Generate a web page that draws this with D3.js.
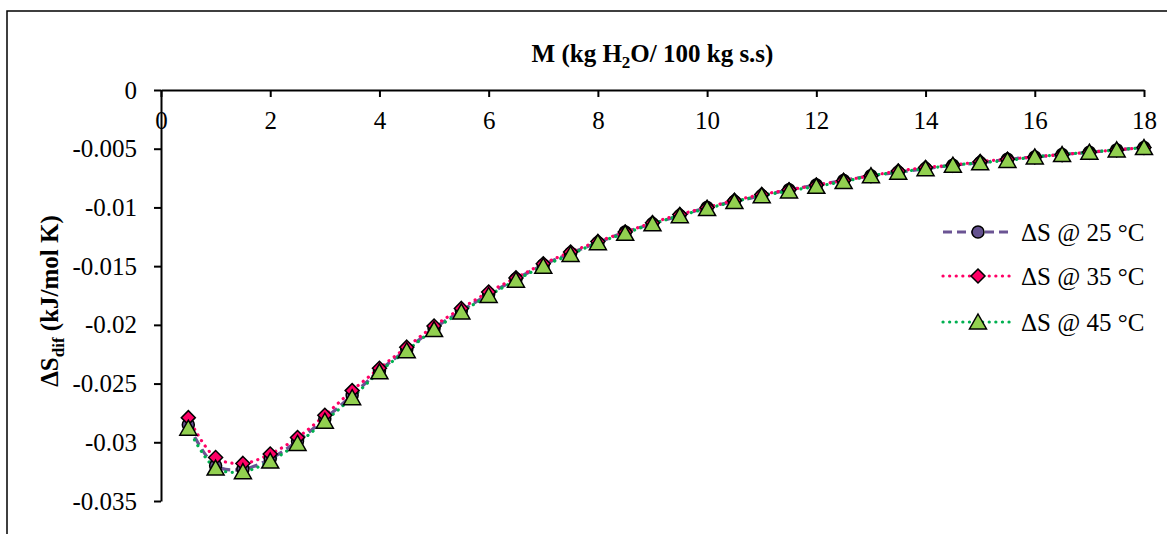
<!DOCTYPE html>
<html>
<head>
<meta charset="utf-8">
<script src="https://cdn.jsdelivr.net/npm/d3@7"></script>
<style>
  body { margin: 0; background: #fff; }
  svg { display: block; font-family: "Liberation Serif", "Times New Roman", serif; }
</style>
</head>
<body>
<div id="chart"></div>
<script>
// moisture content M (kg H2O / 100 kg s.s)
const moisture = [0.5, 1, 1.5, 2, 2.5, 3, 3.5, 4, 4.5, 5, 5.5, 6, 6.5, 7, 7.5, 8, 8.5, 9,
  9.5, 10, 10.5, 11, 11.5, 12, 12.5, 13, 13.5, 14, 14.5, 15, 15.5, 16, 16.5, 17, 17.5, 18];

// differential entropy (kJ/mol K)
const ds25 = [-0.0285, -0.0320, -0.0323, -0.0314, -0.0299, -0.0280, -0.0260, -0.0239, -0.0221,
  -0.0203, -0.0188, -0.0174, -0.0161, -0.0149, -0.0139, -0.0130, -0.0121, -0.0114, -0.0107,
  -0.0100, -0.0095, -0.0090, -0.0085, -0.0081, -0.0077, -0.0073, -0.0070, -0.0067, -0.0064,
  -0.0062, -0.0059, -0.0057, -0.0055, -0.0053, -0.0051, -0.0049];
const ds35 = [-0.0279, -0.0313, -0.0318, -0.0310, -0.0296, -0.0277, -0.0256, -0.0237, -0.0219,
  -0.0201, -0.0186, -0.0172, -0.0160, -0.0148, -0.0138, -0.0129, -0.0121, -0.0113, -0.0106,
  -0.0100, -0.0094, -0.0089, -0.0085, -0.0081, -0.0077, -0.0073, -0.0069, -0.0066, -0.0064,
  -0.0061, -0.0059, -0.0057, -0.0055, -0.0053, -0.0051, -0.0049];
const ds45 = [-0.0288, -0.0322, -0.0325, -0.0316, -0.0301, -0.0282, -0.0262, -0.0240, -0.0222,
  -0.0204, -0.0189, -0.0175, -0.0162, -0.0150, -0.0140, -0.0130, -0.0122, -0.0114, -0.0107,
  -0.0101, -0.0095, -0.0090, -0.0086, -0.0082, -0.0078, -0.0073, -0.0070, -0.0067, -0.0064,
  -0.0062, -0.0060, -0.0057, -0.0055, -0.0053, -0.0051, -0.0049];

const seriesNames = ["\u0394S @ 25 \u00B0C", "\u0394S @ 35 \u00B0C", "\u0394S @ 45 \u00B0C"];

// tick values and labels
const xTicks = [0, 2, 4, 6, 8, 10, 12, 14, 16, 18];
const yTicks = [0, -0.005, -0.01, -0.015, -0.02, -0.025, -0.03, -0.035];
const yTickLabels = ["0", "-0.005", "-0.01", "-0.015", "-0.02", "-0.025", "-0.03", "-0.035"];

// chart settings
const width = 1167;
const height = 534;
const plotLeft = 161, plotRight = 1144, plotTop = 90, plotBottom = 501;
const fontSize = 25;

const xScale = d3.scaleLinear().domain([0, 18]).range([plotLeft, plotRight]);
const yScale = d3.scaleLinear().domain([-0.035, 0]).range([plotBottom, plotTop]);

const svg = d3.select("#chart").append("svg")
  .attr("width", width)
  .attr("height", height);

// outer frame
svg.append("rect")
  .attr("x", 7).attr("y", 11)
  .attr("width", 1300).attr("height", 700)
  .attr("fill", "none").attr("stroke", "#000").attr("stroke-width", 1.5);

// series styles
const styles = [
  { data: ds25, line: "#6B5494", dash: "9 5", cap: "butt", fill: "#64518F", shape: "circle" },
  { data: ds35, line: "#FF0066", dash: "0.1 6.5", cap: "round", fill: "#FF0066", shape: "diamond" },
  { data: ds45, line: "#00B050", dash: "0.1 6.5", cap: "round", fill: "#92D050", shape: "triangle" }
];

const markerPath = {
  circle: "M6,0A6,6 0 1,1 -6,0A6,6 0 1,1 6,0Z",
  diamond: "M0,-7L7,0L0,7L-7,0Z",
  triangle: "M0,-8L8.5,7L-8.5,7Z"
};

const line = d3.line()
  .x((d) => xScale(d[0]))
  .y((d) => yScale(d[1]))
  .curve(d3.curveCatmullRom.alpha(0.5));

// lines first
styles.forEach((s) => {
  const pts = moisture.map((m, i) => [m, s.data[i]]);
  svg.append("path")
    .datum(pts)
    .attr("d", line)
    .attr("fill", "none")
    .attr("stroke", s.line)
    .attr("stroke-width", 3.2)
    .attr("stroke-dasharray", s.dash)
    .attr("stroke-linecap", s.cap);
});

// markers
styles.forEach((s) => {
  svg.append("g")
    .selectAll("path")
    .data(moisture.map((m, i) => [m, s.data[i]]))
    .enter()
    .append("path")
    .attr("d", markerPath[s.shape])
    .attr("transform", (d) => "translate(" + xScale(d[0]) + "," + yScale(d[1]) + ")")
    .attr("fill", s.fill)
    .attr("stroke", "#000")
    .attr("stroke-width", 1.5);
});

// x-axis (at y = 0, top of plot)
const xAxis = d3.axisBottom(xScale)
  .tickValues(xTicks)
  .tickSize(7)
  .tickSizeOuter(0)
  .tickPadding(14)
  .tickFormat((d) => d);

const gx = svg.append("g")
  .attr("transform", "translate(0," + plotTop + ")")
  .call(xAxis);

// y-axis
const yAxis = d3.axisLeft(yScale)
  .tickValues(yTicks)
  .tickSize(7)
  .tickSizeOuter(0)
  .tickPadding(17)
  .tickFormat((d, i) => yTickLabels[i]);

const gy = svg.append("g")
  .attr("transform", "translate(" + plotLeft + ",0)")
  .call(yAxis);

[gx, gy].forEach((g) => {
  g.selectAll("path, line").attr("stroke", "#000").attr("stroke-width", 2);
  g.selectAll("text")
    .attr("fill", "#000")
    .style("font-size", fontSize + "px")
    .style("font-family", "'Liberation Serif', 'Times New Roman', serif");
});

// x-axis title
const xt = svg.append("text")
  .attr("x", (plotLeft + plotRight) / 2)
  .attr("y", 62)
  .attr("text-anchor", "middle")
  .style("font-size", fontSize + "px")
  .style("font-weight", "bold");
xt.append("tspan").text("M (kg H");
xt.append("tspan").attr("dy", 6).style("font-size", "17px").text("2");
xt.append("tspan").attr("dy", -6).text("O/ 100 kg s.s)");

// y-axis title
const yt = svg.append("text")
  .attr("transform", "translate(58,301) rotate(-90)")
  .attr("text-anchor", "middle")
  .style("font-size", fontSize + "px")
  .style("font-weight", "bold");
yt.append("tspan").text("\u0394S");
yt.append("tspan").attr("dy", 6).style("font-size", "17px").text("dif");
yt.append("tspan").attr("dy", -6).text(" (kJ/mol K)");

// legend
const legendY = [232, 276, 322];
styles.forEach((s, i) => {
  const g = svg.append("g").attr("transform", "translate(0," + legendY[i] + ")");
  g.append("line")
    .attr("x1", 943).attr("x2", 1013)
    .attr("stroke", s.line)
    .attr("stroke-width", 3.2)
    .attr("stroke-dasharray", s.dash)
    .attr("stroke-linecap", s.cap);
  g.append("path")
    .attr("d", markerPath[s.shape])
    .attr("transform", "translate(978,0)")
    .attr("fill", s.fill)
    .attr("stroke", "#000")
    .attr("stroke-width", 1.5);
  g.append("text")
    .attr("x", 1021)
    .attr("dy", "0.35em")
    .style("font-size", fontSize + "px")
    .text(seriesNames[i]);
});
</script>
</body>
</html>
